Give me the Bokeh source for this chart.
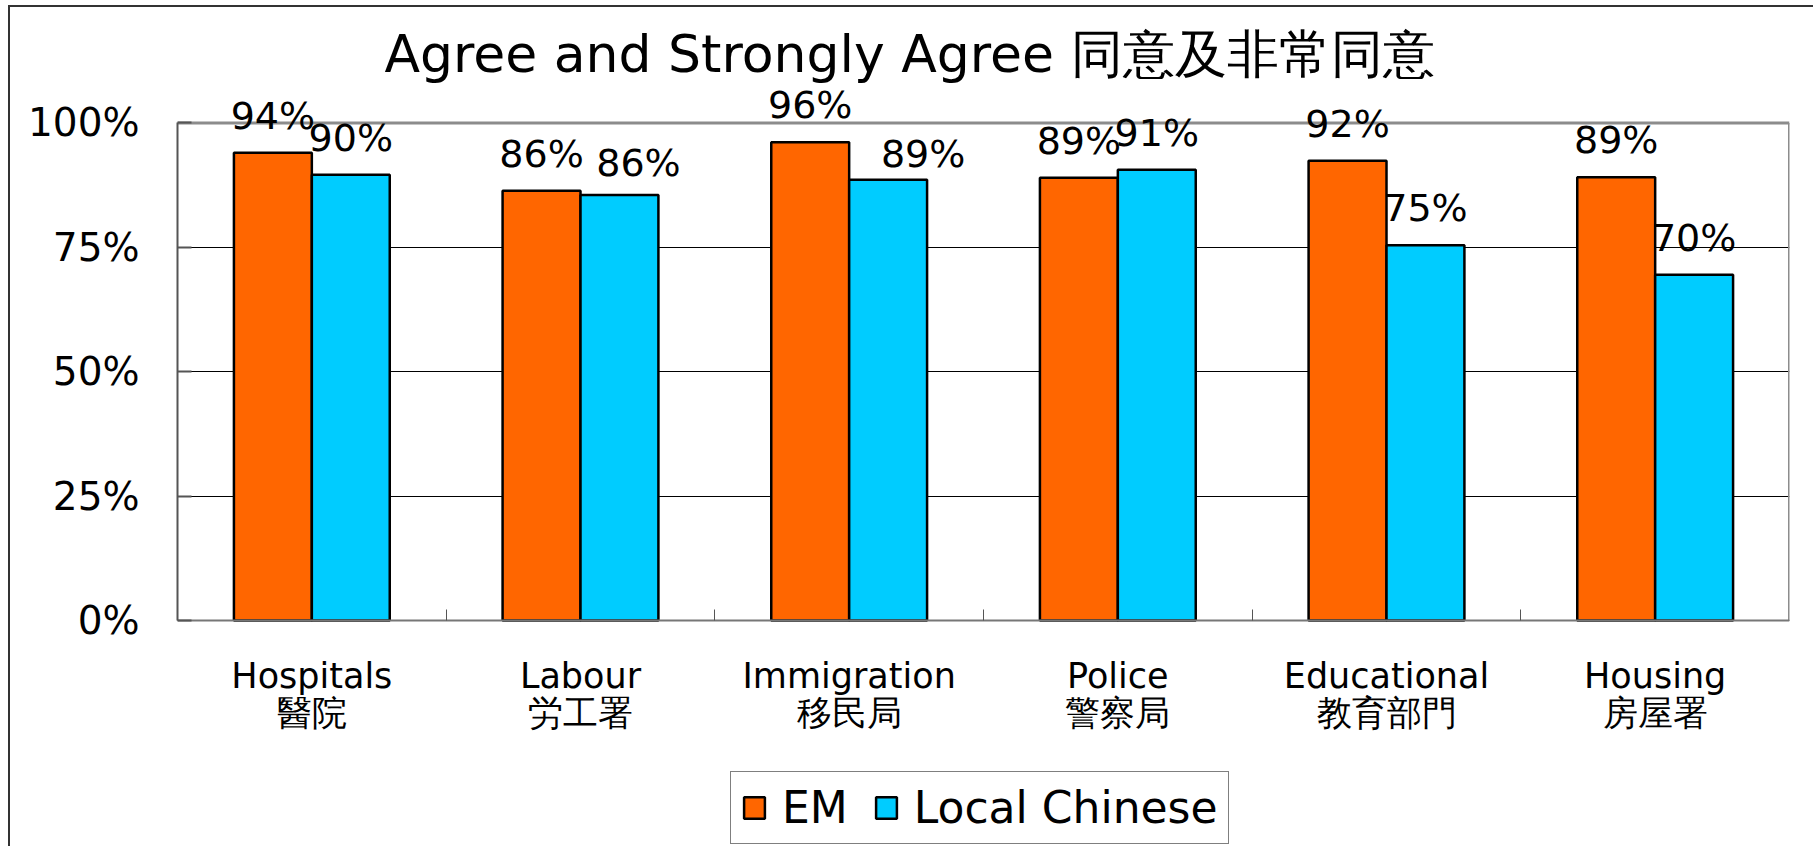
import numpy as np
from bokeh.plotting import figure
from bokeh.core.properties import value
from bokeh.models import (ColumnDataSource, Range1d, FixedTicker, PrintfTickFormatter,
                          LabelSet, Label, Legend, LegendItem)
from bokeh.embed import file_html
from bokeh.resources import INLINE

# ---- data ----
categories_en = ["Hospitals", "Labour", "Immigration", "Police", "Educational", "Housing"]
categories_zh = ["醫院", "労工署", "移民局", "警察局", "教育部門", "房屋署"]
em_values = [94.0, 86.4, 96.1, 89.0, 92.4, 89.1]
local_values = [89.6, 85.5, 88.6, 90.6, 75.4, 69.5]
series_names = ["EM", "Local Chinese"]
y_ticks = [0, 25, 50, 75, 100]
title_text = "Agree and Strongly Agree 同意及非常同意"

# ---- styling ----
FONT = "DejaVu Sans"
EM_COLOR = "#FF6600"
LC_COLOR = "#00CCFF"
FRAME_GREY = "#8c8c8c"
# hand-placed value labels of the second series (pixel nudges, as in the original)
LC_LABEL_DX = [0, 19, 35, 0, 0, 0]
LC_LABEL_DY = [24, 19, 13, 24, 24, 24]

n = len(categories_en)
centers = np.arange(n) + 0.5
bar_w = 0.29
y_top = y_ticks[-1]


def pct(v):
    return f"{int(v + 0.5)}%"


src_em = ColumnDataSource(dict(x=centers - bar_w / 2, top=em_values,
                               label=[pct(v) for v in em_values],
                               dx=[0] * n, dy=[24] * n))
src_lc = ColumnDataSource(dict(x=centers + bar_w / 2, top=local_values,
                               label=[pct(v) for v in local_values],
                               dx=LC_LABEL_DX, dy=LC_LABEL_DY))

# the frame spans the full canvas height; the value axis maps 0..100 onto the plot area
p = figure(width=1805, height=841, title=None,
           x_range=Range1d(0, n), y_range=Range1d(-0.458 * y_top, 1.232 * y_top),
           output_backend="svg", toolbar_location=None,
           min_border_left=167, min_border_right=26, min_border_top=0, min_border_bottom=0)
p.styles = {"margin-left": "8px", "margin-top": "5px",
            "border-left": "2px solid #333333", "border-top": "2px solid #333333"}
p.background_fill_color = "white"
p.border_fill_color = "white"
p.outline_line_color = None

# grid
p.xgrid.visible = False
p.ygrid.ticker = FixedTicker(ticks=y_ticks[:-1])
p.ygrid.grid_line_color = "black"
p.ygrid.grid_line_width = 1

# y axis
p.yaxis.ticker = FixedTicker(ticks=y_ticks)
p.yaxis.bounds = (y_ticks[0], y_top)
p.yaxis.formatter = PrintfTickFormatter(format="%d%%")
p.yaxis.major_label_text_font = FONT
p.yaxis.major_label_text_font_size = "39px"
p.yaxis.major_label_text_color = "black"
p.yaxis.major_label_standoff = 38
p.yaxis.major_tick_in = 14
p.yaxis.major_tick_out = 0
p.yaxis.minor_tick_line_color = None
p.yaxis.axis_line_color = "#555555"
p.yaxis.axis_line_width = 2
p.yaxis.major_tick_line_color = "#555555"
p.yaxis.major_tick_line_width = 2

# x axis, fixed at value 0
p.xaxis.fixed_location = 0
p.xaxis.ticker = FixedTicker(ticks=list(centers), minor_ticks=list(range(1, n)))
p.xaxis.major_label_overrides = {float(c): f"{en}\n{zh}" for c, en, zh in
                                 zip(centers, categories_en, categories_zh)}
p.xaxis.major_label_text_font = FONT
p.xaxis.major_label_text_font_size = "35px"
p.xaxis.major_label_text_color = "black"
p.xaxis.major_label_text_line_height = 0.93
p.xaxis.major_label_standoff = 35
p.xaxis.major_tick_in = 0
p.xaxis.major_tick_out = 0
p.xaxis.minor_tick_in = 11
p.xaxis.minor_tick_out = 0
p.xaxis.minor_tick_line_color = "#555555"
p.xaxis.minor_tick_line_width = 1
p.xaxis.axis_line_color = "#777777"
p.xaxis.axis_line_width = 2

# plot-area border (top and right), following the value scale
p.segment(x0=[0, n], y0=[y_top, 0], x1=[n, n], y1=[y_top, y_top],
          line_color=FRAME_GREY, line_width=3)

# bars
r_em = p.vbar(x="x", top="top", bottom=0, width=bar_w, source=src_em,
              fill_color=EM_COLOR, line_color="black", line_width=2.5)
r_lc = p.vbar(x="x", top="top", bottom=0, width=bar_w, source=src_lc,
              fill_color=LC_COLOR, line_color="black", line_width=2.5)

# value labels
for src in (src_em, src_lc):
    p.add_layout(LabelSet(x="x", y="top", text="label", source=src,
                          x_offset="dx", y_offset="dy",
                          text_align="center", text_baseline="alphabetic",
                          text_font=value(FONT), text_font_size="38px",
                          text_color="black"))

# title
p.add_layout(Label(x=n / 2, y=y_top, text=title_text, x_offset=-74, y_offset=69,
                   text_align="center", text_baseline="alphabetic",
                   text_font=FONT, text_font_size="52px", text_color="black"))

# legend
legend = Legend(items=[LegendItem(label=series_names[0], renderers=[r_em]),
                       LegendItem(label=series_names[1], renderers=[r_lc])],
                location=(553, 4), orientation="horizontal",
                padding=10, spacing=25, label_standoff=15, margin=0,
                glyph_width=26, glyph_height=27,
                label_text_font=FONT, label_text_font_size="44px",
                label_text_color="black",
                border_line_color="black", border_line_width=1.5,
                background_fill_color="white", background_fill_alpha=1)
p.add_layout(legend)

open("out.html", "w").write(file_html(p, INLINE))
